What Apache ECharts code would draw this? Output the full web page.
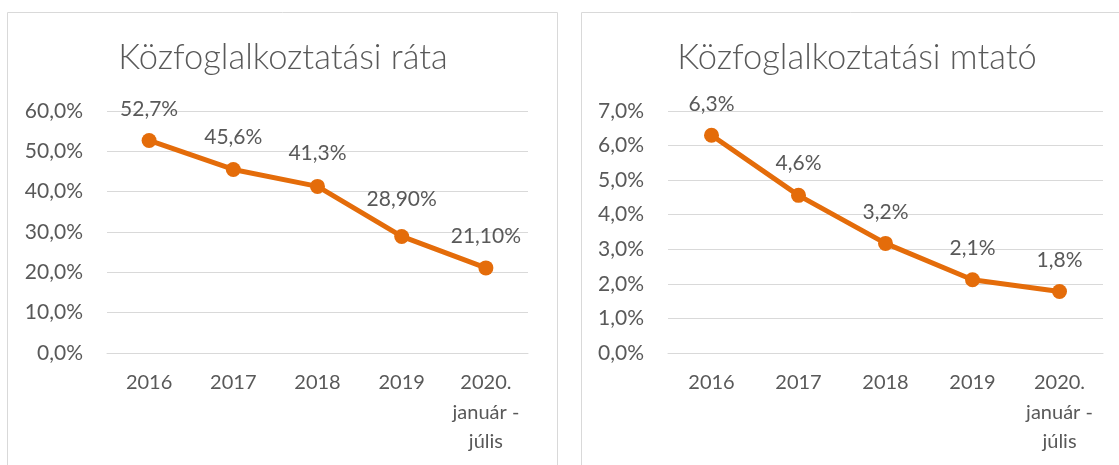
<!DOCTYPE html>
<html><head><meta charset="utf-8">
<script src="https://cdn.jsdelivr.net/npm/echarts@6/dist/echarts.min.js"></script>
<style>html,body{margin:0;padding:0;background:#fff;}#c{width:1119px;height:465px;}</style>
</head><body><div id="c"></div>
<script>
const categories = ['2016', '2017', '2018', '2019', '2020.\njanuár -\njúlis'];
const rataValues = [52.7, 45.5, 41.3, 28.9, 21.1];
const rataLabels = ['52,7%', '45,6%', '41,3%', '28,90%', '21,10%'];
const mutatoValues = [6.3, 4.56, 3.17, 2.12, 1.78];
const mutatoLabels = ['6,3%', '4,6%', '3,2%', '2,1%', '1,8%'];
const titles = ['Közfoglalkoztatási ráta', 'Közfoglalkoztatási mtató'];

const FONT = 'Lato';
const GRAY = '#595959';
const ORANGE = '#E46C0A';
const fmt = v => v.toFixed(1).replace('.', ',') + '%';
// extra label lift (px) per point, as placed in the reference
const rataLift = [0, 1, 2, 6, 1];
const mutatoLift = [0, 1, 0, 0, 0];

const chart = echarts.init(document.getElementById('c'));
function yAxis(idx, max) {
  return {
    type: 'value', gridIndex: idx, min: 0, max: max, interval: max === 60 ? 10 : 1,
    axisLine: {show: false}, axisTick: {show: false},
    splitLine: {lineStyle: {color: '#d9d9d9', width: 1}},
    axisLabel: {formatter: fmt, color: GRAY, fontFamily: FONT, fontSize: 21, margin: 24}
  };
}
function xAxis(idx) {
  return {
    type: 'category', gridIndex: idx, data: categories, boundaryGap: true,
    axisLine: {lineStyle: {color: '#d9d9d9', width: 1}}, axisTick: {show: false},
    axisLabel: {color: GRAY, fontFamily: FONT, fontSize: 20, lineHeight: 29.5, margin: 15, interval: 0}
  };
}
function series(idx, vals, labels, lift) {
  return {
    type: 'line', xAxisIndex: idx, yAxisIndex: idx,
    data: vals.map((v, i) => ({value: v, label: {distance: 13 + lift[i]}})),
    symbol: 'circle', symbolSize: 15,
    lineStyle: {color: ORANGE, width: 5}, itemStyle: {color: ORANGE},
    label: {show: true, position: 'top', distance: 13, color: GRAY, fontFamily: FONT, fontSize: 21,
      formatter: p => labels[p.dataIndex]},
    animation: false
  };
}
chart.setOption({
  animation: false,
  graphic: [
    {type: 'rect', shape: {x: 7.5, y: 12.5, width: 550, height: 470}, style: {fill: 'none', stroke: '#d9d9d9', lineWidth: 1}},
    {type: 'rect', shape: {x: 581.5, y: 12.5, width: 560, height: 470}, style: {fill: 'none', stroke: '#d9d9d9', lineWidth: 1}}
  ],
  title: [
    {text: titles[0], left: 278, top: 35, textAlign: 'center',
      textStyle: {fontFamily: FONT, fontWeight: 300, fontSize: 34.5, color: GRAY}},
    {text: titles[1], left: 852, top: 35, textAlign: 'center',
      textStyle: {fontFamily: FONT, fontWeight: 300, fontSize: 34.5, color: GRAY}}
  ],
  grid: [
    {left: 107, right: 591, top: 111, bottom: 112},
    {left: 668, right: 16, top: 111, bottom: 112}
  ],
  xAxis: [xAxis(0), xAxis(1)],
  yAxis: [yAxis(0, 60), yAxis(1, 7)],
  series: [series(0, rataValues, rataLabels, rataLift), series(1, mutatoValues, mutatoLabels, mutatoLift)]
});
</script></body></html>
